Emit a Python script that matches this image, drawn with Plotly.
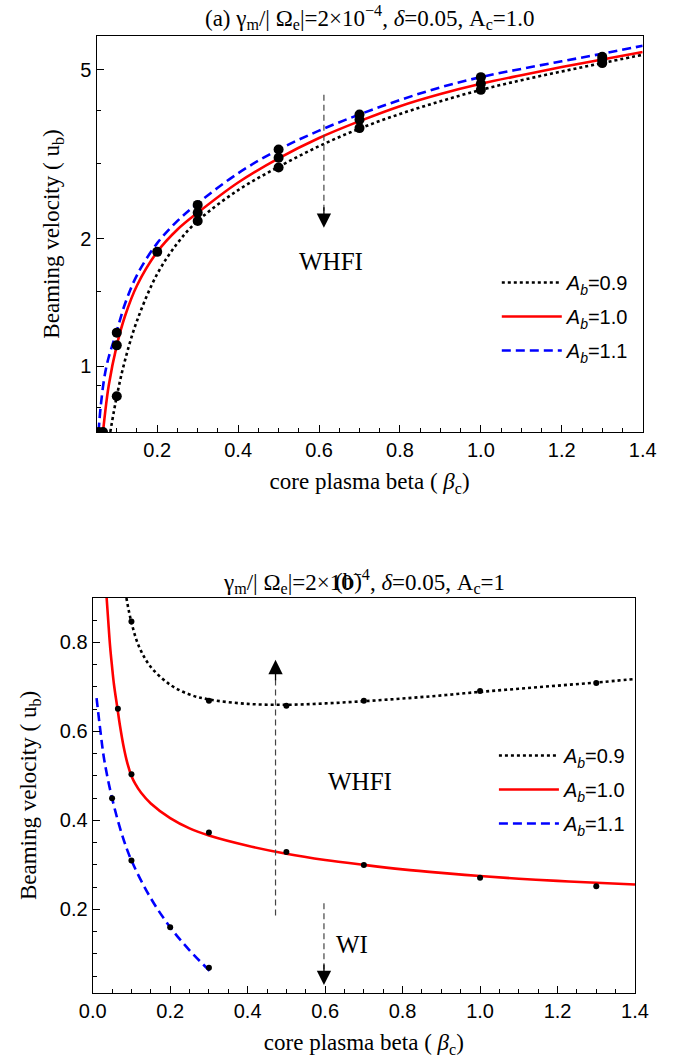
import numpy as np
import plotly.graph_objects as go

# ---------------- data: panel (a) ----------------
a_x_09 = [0.084, 0.1, 0.12, 0.15, 0.2, 0.25, 0.3, 0.4, 0.5, 0.6, 0.7, 0.8, 0.9, 1.0, 1.1, 1.2, 1.3, 1.4]
a_u_09 = [0.70, 0.85, 1.03, 1.28, 1.65, 1.95, 2.20, 2.60, 2.95, 3.30, 3.63, 3.93, 4.21, 4.48, 4.72, 4.95, 5.18, 5.42]
a_x_10 = [0.066, 0.07, 0.08, 0.1, 0.12, 0.15, 0.2, 0.25, 0.3, 0.4, 0.5, 0.6, 0.7, 0.8, 0.9, 1.0, 1.1, 1.2, 1.3, 1.4]
a_u_10 = [0.70, 0.76, 0.90, 1.12, 1.31, 1.55, 1.86, 2.10, 2.30, 2.71, 3.09, 3.45, 3.78, 4.10, 4.38, 4.63, 4.85, 5.07, 5.28, 5.50]
a_x_11 = [0.055, 0.06, 0.07, 0.08, 0.1, 0.12, 0.15, 0.2, 0.25, 0.3, 0.4, 0.5, 0.6, 0.7, 0.8, 0.9, 1.0, 1.1, 1.2, 1.3, 1.4]
a_u_11 = [0.70, 0.80, 0.95, 1.05, 1.21, 1.40, 1.64, 1.95, 2.20, 2.42, 2.85, 3.24, 3.59, 3.92, 4.24, 4.54, 4.80, 5.02, 5.23, 5.45, 5.69]

a_px_09 = [0.1, 0.3, 0.5, 0.7, 1.0, 1.3]
a_pu_09 = [0.85, 2.20, 2.94, 3.64, 4.48, 5.18]
a_px_10 = [0.066, 0.1, 0.2, 0.3, 0.5, 0.7, 1.0, 1.3]
a_pu_10 = [0.70, 1.12, 1.86, 2.30, 3.10, 3.81, 4.63, 5.27]
a_px_11 = [0.055, 0.1, 0.3, 0.5, 0.7, 1.0, 1.3]
a_pu_11 = [0.70, 1.20, 2.40, 3.24, 3.92, 4.80, 5.36]

# ---------------- data: panel (b) ----------------
b_x_09 = [0.087, 0.1, 0.12, 0.15, 0.2, 0.25, 0.3, 0.4, 0.5, 0.6, 0.7, 0.8, 0.9, 1.0, 1.1, 1.2, 1.3, 1.4]
b_u_09 = [0.90, 0.845, 0.79, 0.745, 0.705, 0.683, 0.672, 0.662, 0.660, 0.663, 0.668, 0.674, 0.681, 0.689, 0.696, 0.703, 0.710, 0.718]
b_x_10 = [0.036, 0.04, 0.045, 0.05, 0.055, 0.064, 0.07, 0.08, 0.09, 0.1, 0.11, 0.125, 0.15, 0.2, 0.25, 0.3,
          0.4, 0.5, 0.6, 0.7, 0.8, 0.9, 1.0, 1.1, 1.2, 1.3, 1.4]
b_u_10 = [0.90, 0.85, 0.79, 0.745, 0.705, 0.651, 0.615, 0.565, 0.527, 0.50, 0.482, 0.462, 0.438, 0.405, 0.382, 0.366,
          0.343, 0.325, 0.311, 0.300, 0.290, 0.282, 0.275, 0.269, 0.264, 0.260, 0.256]
b_x_11 = [0.01, 0.02, 0.03, 0.05, 0.075, 0.1, 0.15, 0.2, 0.25, 0.31]
b_u_11 = [0.675, 0.60, 0.535, 0.45, 0.37, 0.31, 0.225, 0.16, 0.108, 0.055]

b_px_09 = [0.1, 0.3, 0.5, 0.7, 1.0, 1.3]
b_pu_09 = [0.847, 0.669, 0.658, 0.669, 0.691, 0.709]
b_px_10 = [0.065, 0.1, 0.3, 0.5, 0.7, 1.0, 1.3]
b_pu_10 = [0.651, 0.504, 0.373, 0.329, 0.300, 0.271, 0.252]
b_px_11 = [0.05, 0.1, 0.2, 0.3]
b_pu_11 = [0.45, 0.31, 0.16, 0.069]

legend_names = ["<i>A</i><sub><i>b</i></sub>=0.9", "<i>A</i><sub><i>b</i></sub>=1.0", "<i>A</i><sub><i>b</i></sub>=1.1"]
x_ticks = [0.0, 0.2, 0.4, 0.6, 0.8, 1.0, 1.2, 1.4]
a_y_ticks = [1, 2, 5]
a_y_minor = [0.7, 0.8, 0.9, 1.5, 3, 4, 6]
b_y_ticks = [0.2, 0.4, 0.6, 0.8]

SERIF = "Liberation Serif, Times New Roman, serif"
SANS = "Liberation Sans, Arial, sans-serif"

W, H = 697, 1063
# pixel frames
a_l, a_r, a_t, a_b = 86, 655, 36, 432
b_l, b_r, b_t, b_b = 82, 647, 598, 993

def px(xp):
    return xp / W
def py(yp):
    return 1 - yp / H

styles = [
    dict(color="black", width=2.6, dash="3px,3px"),
    dict(color="#ff0000", width=2.6, dash="solid"),
    dict(color="#0000ff", width=2.6, dash="9px,5px"),
]

fig = go.Figure()

a_curves = [(a_x_09, a_u_09), (a_x_10, a_u_10), (a_x_11, a_u_11)]
a_points = [(a_px_09, a_pu_09), (a_px_10, a_pu_10), (a_px_11, a_pu_11)]
for i, (cx, cu) in enumerate(a_curves):
    fig.add_trace(go.Scatter(x=cx, y=cu, mode="lines", line=dict(**styles[i], shape="spline"),
                             name=legend_names[i], legend="legend", legendgroup="a%d" % i,
                             xaxis="x", yaxis="y"))
for i, (pxs, pus) in enumerate(a_points):
    fig.add_trace(go.Scatter(x=pxs, y=pus, mode="markers", marker=dict(color="black", size=10),
                             showlegend=False, xaxis="x", yaxis="y"))

b_curves = [(b_x_09, b_u_09), (b_x_10, b_u_10), (b_x_11, b_u_11)]
b_points = [(b_px_09, b_pu_09), (b_px_10, b_pu_10), (b_px_11, b_pu_11)]
for i, (cx, cu) in enumerate(b_curves):
    fig.add_trace(go.Scatter(x=cx, y=cu, mode="lines", line=dict(**styles[i], shape="spline"),
                             name=legend_names[i], legend="legend2", legendgroup="b%d" % i,
                             xaxis="x2", yaxis="y2"))
for i, (pxs, pus) in enumerate(b_points):
    fig.add_trace(go.Scatter(x=pxs, y=pus, mode="markers", marker=dict(color="black", size=6),
                             showlegend=False, xaxis="x2", yaxis="y2"))

axis_common = dict(showline=True, linecolor="black", linewidth=1.2, mirror=True,
                   ticks="inside", ticklen=7, tickwidth=1.2, tickcolor="black",
                   showgrid=False, zeroline=False,
                   tickfont=dict(family=SANS, size=20, color="black"))

x_title = "core plasma beta ( <i>β</i><sub>c</sub>)"
y_title = "Beaming velocity ( u<sub>b</sub>)"
title_font = dict(family=SERIF, size=23, color="black")

fig.update_layout(
    width=W, height=H, margin=dict(l=0, r=0, t=0, b=0),
    paper_bgcolor="white", plot_bgcolor="white",
    xaxis=dict(**axis_common, domain=[px(a_l), px(a_r)], anchor="y", range=[0.05, 1.4],
               tickmode="array", tickvals=x_ticks[1:], ticktext=["%.1f" % v for v in x_ticks[1:]],
               minor=dict(dtick=0.05, tick0=0, ticklen=4, ticks="inside", tickcolor="black", tickwidth=1),
               title=dict(text=x_title, font=title_font, standoff=12)),
    yaxis=dict(**axis_common, domain=[py(a_b), py(a_t)], anchor="x", type="log",
               range=[np.log10(0.70), np.log10(6.0)],
               tickmode="array", tickvals=a_y_ticks, ticktext=[str(v) for v in a_y_ticks],
               minor=dict(tickmode="array", tickvals=a_y_minor, ticklen=4, ticks="inside", tickcolor="black", tickwidth=1),
               title=dict(text=y_title, font=title_font, standoff=14)),
    xaxis2=dict(**axis_common, domain=[px(b_l), px(b_r)], anchor="y2", range=[0.0, 1.4],
                tickmode="array", tickvals=x_ticks, ticktext=["%.1f" % v for v in x_ticks],
                minor=dict(dtick=0.05, tick0=0, ticklen=4, ticks="inside", tickcolor="black", tickwidth=1),
                title=dict(text=x_title, font=title_font, standoff=12)),
    yaxis2=dict(**axis_common, domain=[py(b_b), py(b_t)], anchor="x2", range=[0.012, 0.90],
                tickmode="array", tickvals=b_y_ticks, ticktext=["%.1f" % v for v in b_y_ticks],
                minor=dict(dtick=0.05, tick0=0, ticklen=4, ticks="inside", tickcolor="black", tickwidth=1),
                title=dict(text=y_title, font=title_font, standoff=16)),
    legend=dict(x=px(503), y=py(263), xanchor="left", yanchor="top", bgcolor="rgba(0,0,0,0)",
                font=dict(family=SANS, size=20, color="black"), tracegroupgap=5, itemwidth=60),
    legend2=dict(x=px(500), y=py(736), xanchor="left", yanchor="top", bgcolor="rgba(0,0,0,0)",
                 font=dict(family=SANS, size=20, color="black"), tracegroupgap=5, itemwidth=60),
    showlegend=True,
)

big_font = dict(family=SERIF, size=25, color="black")
head = dict(showarrow=True, arrowhead=2, arrowsize=2.2, arrowwidth=1.3, arrowcolor="black", text="")
annotations = [
    dict(text="(a) γ<sub>m</sub>/| Ω<sub>e</sub>|=2×10<sup>−4</sup>, <i>δ</i>=0.05, A<sub>c</sub>=1.0",
         xref="paper", yref="paper", x=px((a_l + a_r) / 2), y=py(17), showarrow=False, font=title_font,
         xanchor="center", yanchor="middle"),
    dict(text="γ<sub>m</sub>/| Ω<sub>e</sub>|=2×10<sup>−4</sup>, <i>δ</i>=0.05, A<sub>c</sub>=1",
         xref="paper", yref="paper", x=px((b_l + b_r) / 2), y=py(581), showarrow=False, font=title_font,
         xanchor="center", yanchor="middle"),
    dict(text="(b)", xref="paper", yref="paper", x=px(348), y=py(581), showarrow=False, font=title_font,
         xanchor="center", yanchor="middle"),
    dict(text="WHFI", xref="x", yref="y", x=0.63, y=np.log10(1.77), showarrow=False, font=big_font),
    dict(text="WHFI", xref="x2", yref="y2", x=0.69, y=0.487, showarrow=False, font=big_font),
    dict(text="WI", xref="x2", yref="y2", x=0.67, y=0.12, showarrow=False, font=big_font),
    # arrowheads
    dict(xref="x", yref="y", x=0.612, y=np.log10(2.12), ax=0, ay=-22, **head),
    dict(xref="x2", yref="y2", x=0.472, y=0.761, ax=0, ay=22, **head),
    dict(xref="x2", yref="y2", x=0.597, y=0.03, ax=0, ay=-22, **head),
]
fig.update_layout(annotations=annotations)

dline = dict(color="#444444", width=1.2, dash="6px,4px")
fig.update_layout(shapes=[
    dict(type="line", xref="x", yref="y", x0=0.612, x1=0.612, y0=4.36, y1=2.3, line=dline),
    dict(type="line", xref="x2", yref="y2", x0=0.472, x1=0.472, y0=0.186, y1=0.72, line=dline),
    dict(type="line", xref="x2", yref="y2", x0=0.597, x1=0.597, y0=0.214, y1=0.06, line=dline),
])

fig.write_html("out.html")
